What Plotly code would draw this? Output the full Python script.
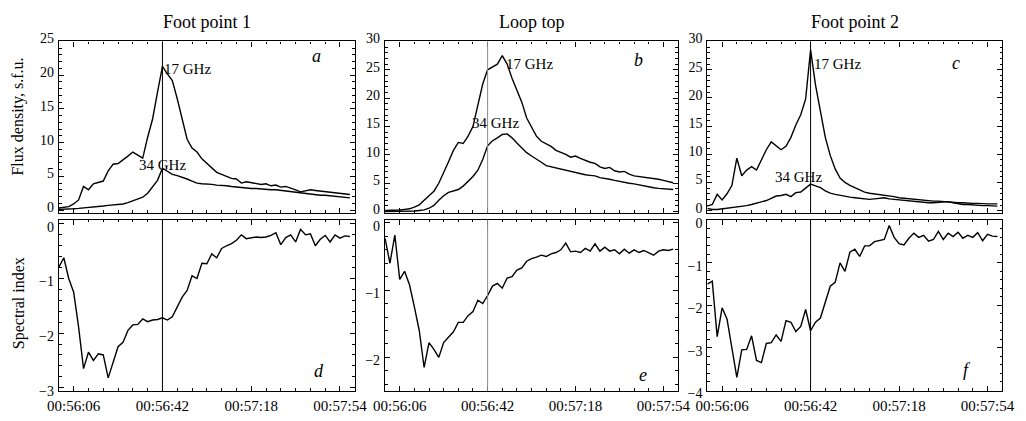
import plotly.graph_objects as go
import pandas as pd

# sampling grid, seconds after 00:56:00
t_sec = list(range(0, 120, 2))

panel_titles = ["Foot point 1", "Loop top", "Foot point 2"]
tick_fmt = "%H:%M:%S"

# Flux density, s.f.u.
fp1_17 = [0.3, 0.4, 0.5, 0.9, 1.5, 3.5, 3.0, 3.9, 4.1, 4.3, 5.8, 6.8, 6.9, 7.4, 8.0, 8.6, 8.1, 7.7, 10.8, 13.5,
          17.5, 21.3, 20.2, 19.2, 16.5, 13.5, 10.5, 9.2, 8.6, 7.6, 6.9, 6.2, 5.6, 5.3, 5.0, 4.7, 4.6, 4.0, 4.2, 4.1,
          3.9, 3.8, 3.9, 3.6, 3.7, 3.4, 3.5, 3.3, 3.0, 2.7, 2.8, 3.0, 2.9, 2.8, 2.7, 2.7, 2.6, 2.5, 2.4, 2.3]
fp1_34 = [0.1, 0.1, 0.15, 0.2, 0.25, 0.3, 0.4, 0.5, 0.55, 0.6, 0.7, 0.75, 0.85, 0.9, 1.1, 1.4, 1.6, 1.9, 2.5, 3.4,
          4.4, 6.2, 5.7, 5.3, 5.1, 4.9, 4.6, 4.3, 4.0, 3.9, 3.9, 3.8, 3.7, 3.7, 3.6, 3.5, 3.4, 3.3, 3.3, 3.2,
          3.2, 3.1, 3.1, 3.0, 3.0, 2.9, 2.8, 2.7, 2.6, 2.5, 2.4, 2.3, 2.3, 2.2, 2.2, 2.1, 2.0, 2.0, 1.9, 1.8]
lt_17 = [0.2, 0.2, 0.3, 0.3, 0.4, 0.5, 0.8, 1.2, 2.0, 2.8, 3.6, 5.0, 6.8, 8.8, 10.8, 12.2, 12.0, 13.3, 15.0, 18.8,
         22.5, 25.0, 25.5, 26.0, 27.5, 26.0, 23.5, 21.5, 19.3, 16.5, 14.8, 13.3, 12.4, 11.9, 11.5, 10.8, 10.5, 10.1, 9.6, 9.8,
         9.4, 9.0, 8.7, 8.5, 7.9, 7.6, 7.8, 7.2, 7.0, 7.1, 6.6, 6.3, 6.2, 6.0, 5.9, 5.9, 5.7, 5.5, 5.3, 5.1]
lt_34 = [0.0, 0.0, 0.05, 0.05, 0.1, 0.1, 0.1, 0.2, 0.3, 0.6, 1.1, 2.0, 2.8, 3.4, 3.7, 3.9, 4.5, 5.3, 6.2, 7.3,
         9.2, 11.6, 12.5, 13.0, 13.6, 13.7, 13.0, 12.1, 11.3, 10.4, 9.8, 9.3, 8.7, 8.1, 7.9, 7.7, 7.5, 7.3, 7.0, 6.9,
         6.7, 6.5, 6.4, 6.3, 6.0, 5.9, 5.7, 5.5, 5.3, 5.2, 5.0, 4.9, 4.7, 4.5, 4.3, 4.2, 4.1, 4.0, 3.9, 3.9]
fp2_17 = [0.8, 1.1, 2.9, 1.9, 3.0, 4.5, 9.3, 6.2, 7.2, 7.8, 7.2, 9.0, 10.8, 12.2, 11.5, 10.8, 11.4, 13.0, 15.2, 17.0,
          19.8, 28.5, 22.3, 17.5, 13.0, 9.8, 7.4, 5.8, 5.0, 4.5, 4.1, 3.6, 3.3, 3.1, 3.0, 2.9, 2.8, 2.6, 2.5, 2.3,
          2.2, 2.1, 2.0, 1.9, 1.9, 1.8, 1.7, 1.7, 1.6, 1.5, 1.5, 1.4, 1.4, 1.3, 1.3, 1.3, 1.2, 1.2, 1.2, 1.2]
fp2_34 = [0.4, 0.2, 0.2, 0.3, 0.4, 0.5, 0.7, 0.8, 0.9, 1.1, 1.3, 1.6, 1.8, 2.2, 2.6, 2.7, 2.9, 2.5, 3.2, 3.3,
          4.0, 4.7, 4.4, 4.1, 3.5, 3.1, 2.9, 2.7, 2.5, 2.4, 2.3, 2.2, 2.1, 2.0, 2.1, 2.2, 2.3, 2.1, 2.0, 1.9,
          1.8, 1.7, 1.7, 1.6, 1.5, 1.4, 1.4, 1.5, 1.5, 1.6, 1.4, 1.2, 1.1, 1.1, 1.0, 1.0, 0.9, 0.9, 0.8, 0.8]

# Spectral index
fp1_idx = [-0.79, -0.62, -1.0, -1.25, -1.89, -2.65, -2.35, -2.5, -2.38, -2.4, -2.82, -2.55, -2.25, -2.17, -1.95,
           -1.85, -1.84, -1.74, -1.79, -1.76, -1.75, -1.72, -1.76, -1.70, -1.52, -1.34, -1.22, -0.95, -1.0, -0.72,
           -0.73, -0.55, -0.62, -0.45, -0.40, -0.36, -0.30, -0.2, -0.27, -0.26, -0.24, -0.25, -0.24, -0.21, -0.16,
           -0.38, -0.25, -0.20, -0.33, -0.1, -0.2, -0.18, -0.40, -0.28, -0.21, -0.33, -0.2, -0.26, -0.22, -0.23]
lt_idx = [-0.23, -0.60, -0.18, -0.84, -0.72, -0.92, -1.25, -1.6, -2.15, -1.78, -1.88, -2.0, -1.78, -1.70, -1.62,
          -1.48, -1.48, -1.38, -1.32, -1.15, -1.20, -1.08, -0.94, -0.90, -0.97, -0.82, -0.80, -0.70, -0.67, -0.57,
          -0.53, -0.51, -0.48, -0.50, -0.46, -0.44, -0.40, -0.30, -0.43, -0.42, -0.44, -0.38, -0.42, -0.31, -0.42,
          -0.36, -0.42, -0.40, -0.46, -0.39, -0.45, -0.40, -0.44, -0.41, -0.45, -0.48, -0.42, -0.40, -0.41, -0.39]
fp2_idx = [-1.5, -1.43, -2.74, -2.06, -2.32, -3.0, -3.7, -3.05, -3.04, -2.72, -3.3, -3.35, -2.9, -2.88, -2.7,
           -2.85, -2.36, -2.4, -2.62, -2.5, -2.1, -2.6, -2.4, -2.3, -1.9, -1.55, -1.46, -1.0, -1.2, -0.75,
           -0.68, -0.85, -0.6, -0.6, -0.5, -0.48, -0.45, -0.12, -0.4, -0.55, -0.58, -0.42, -0.3, -0.4, -0.35,
           -0.49, -0.45, -0.26, -0.45, -0.30, -0.38, -0.28, -0.42, -0.35, -0.4, -0.29, -0.48, -0.33, -0.37, -0.38]

flux_pairs = [(fp1_17, fp1_34), (lt_17, lt_34), (fp2_17, fp2_34)]
index_series = [fp1_idx, lt_idx, fp2_idx]

base = pd.Timestamp("2000-01-01 00:56:00")
times = [(base + pd.Timedelta(seconds=s)).strftime("%Y-%m-%d %H:%M:%S") for s in t_sec]
def ts(sec):
    return (base + pd.Timedelta(seconds=sec)).strftime("%Y-%m-%d %H:%M:%S")

FONT = "Liberation Serif"
W, H = 1026, 421
col_px = [(48, 351), (382, 682), (712, 1014)]
row_px = [(33, 213), (220, 400)]
y_ranges = [[-0.42, 25], [-0.22, 30], [-0.39, 30], [-3.06, 0.08], [-2.5, 0.05], [-4.02, 0.02]]
y_dticks = [5, 5, 5, 1, 1, 1]
y_minor = [1, 1, 1, 0.2, 0.2, 0.2]

fig = go.Figure()
layout = {}
for r in range(2):
    for c in range(3):
        i = r * 3 + c + 1
        xa = "x" if i == 1 else f"x{i}"
        ya = "y" if i == 1 else f"y{i}"
        if r == 0:
            for s in flux_pairs[c]:
                fig.add_trace(go.Scatter(x=times, y=s, mode="lines", xaxis=xa, yaxis=ya,
                                         line=dict(color="black", width=1.4), showlegend=False))
        else:
            fig.add_trace(go.Scatter(x=times, y=index_series[c], mode="lines", xaxis=xa, yaxis=ya,
                                     line=dict(color="black", width=1.4), showlegend=False))
        x0, x1 = col_px[c]
        yt, yb = row_px[r]
        layout["xaxis" if i == 1 else f"xaxis{i}"] = dict(
            domain=[x0 / W, x1 / W], anchor=ya, type="date",
            range=[ts(0), ts(120)], tick0=ts(6), dtick=36000, tickformat=tick_fmt,
            showticklabels=(r == 1), ticks="inside", ticklen=5, tickwidth=1, tickcolor="black",
            minor=dict(ticks="inside", ticklen=2.5, dtick=6000, tick0=ts(0), tickcolor="black"),
            showline=True, linecolor="black", linewidth=1.3, mirror="allticks",
            showgrid=False, zeroline=False, ticklabelstandoff=1,
            tickfont=dict(family=FONT, size=15, color="black"))
        layout["yaxis" if i == 1 else f"yaxis{i}"] = dict(
            domain=[1 - yb / H, 1 - yt / H], anchor=xa, range=y_ranges[i - 1],
            tick0=0, dtick=y_dticks[i - 1], ticks="inside", ticklen=5, tickwidth=1, tickcolor="black",
            minor=dict(ticks="inside", ticklen=2.5, dtick=y_minor[i - 1], tick0=0, tickcolor="black"),
            showline=True, linecolor="black", linewidth=1.3, mirror="allticks",
            showgrid=False, zeroline=False, ticklabelstandoff=1,
            ticklabelshift=(-3 if r == 0 else 3),
            tickfont=dict(family=FONT, size=14, color="black"))

shapes = []
for i in range(1, 7):
    xa = "x" if i == 1 else f"x{i}"
    ya = "y" if i == 1 else f"y{i}"
    col = "#8a8a8a" if i in (2, 5) else "black"
    shapes.append(dict(type="line", xref=xa, yref=f"{ya} domain", x0=ts(42), x1=ts(42), y0=0, y1=1,
                       line=dict(color=col, width=1)))

ann = []
def txt(x, y, s, xref="paper", yref="paper", size=15, xanchor="center", angle=0, xshift=0):
    ann.append(dict(x=x, y=y, text=s, xref=xref, yref=yref, showarrow=False, xanchor=xanchor,
                    yanchor="middle", textangle=angle, xshift=xshift,
                    font=dict(family=FONT, size=size, color="black")))

for c, title in enumerate(panel_titles):
    x0, x1 = col_px[c]
    txt((x0 + x1) / 2 / W, 1 - 13 / H, title, size=18)

txt(6 / W, 1 - 112 / H, "Flux density, s.f.u.", size=16, angle=-90)
txt(8 / W, 1 - 308 / H, "Spectral index", size=16, angle=-90)

# frequency labels (data coordinates)
txt(ts(45.5), 20.9, "17 GHz", xref="x", yref="y", xanchor="left", xshift=-8)
txt(ts(35.2), 6.7, "34 GHz", xref="x", yref="y", xanchor="left", xshift=-8)
txt(ts(52.4), 26.0, "17 GHz", xref="x2", yref="y2", xanchor="left", xshift=-8)
txt(ts(38.8), 15.7, "34 GHz", xref="x2", yref="y2", xanchor="left", xshift=-8)
txt(ts(46.0), 26.0, "17 GHz", xref="x3", yref="y3", xanchor="left", xshift=-8)
txt(ts(30.2), 5.9, "34 GHz", xref="x3", yref="y3", xanchor="left", xshift=-8)

for lab, (px, py) in zip("abcdef", [(312, 48), (641, 53), (967, 56), (314, 379), (646, 383), (978, 378)]):
    txt(px / W, 1 - py / H, f"<i>{lab}</i>", size=18)

fig.update_layout(**layout)
fig.update_layout(width=W, height=H, margin=dict(l=0, r=0, t=0, b=0),
                  paper_bgcolor="white", plot_bgcolor="white",
                  shapes=shapes, annotations=ann, showlegend=False,
                  font=dict(family=FONT, color="black"))

fig.write_html("out.html")
